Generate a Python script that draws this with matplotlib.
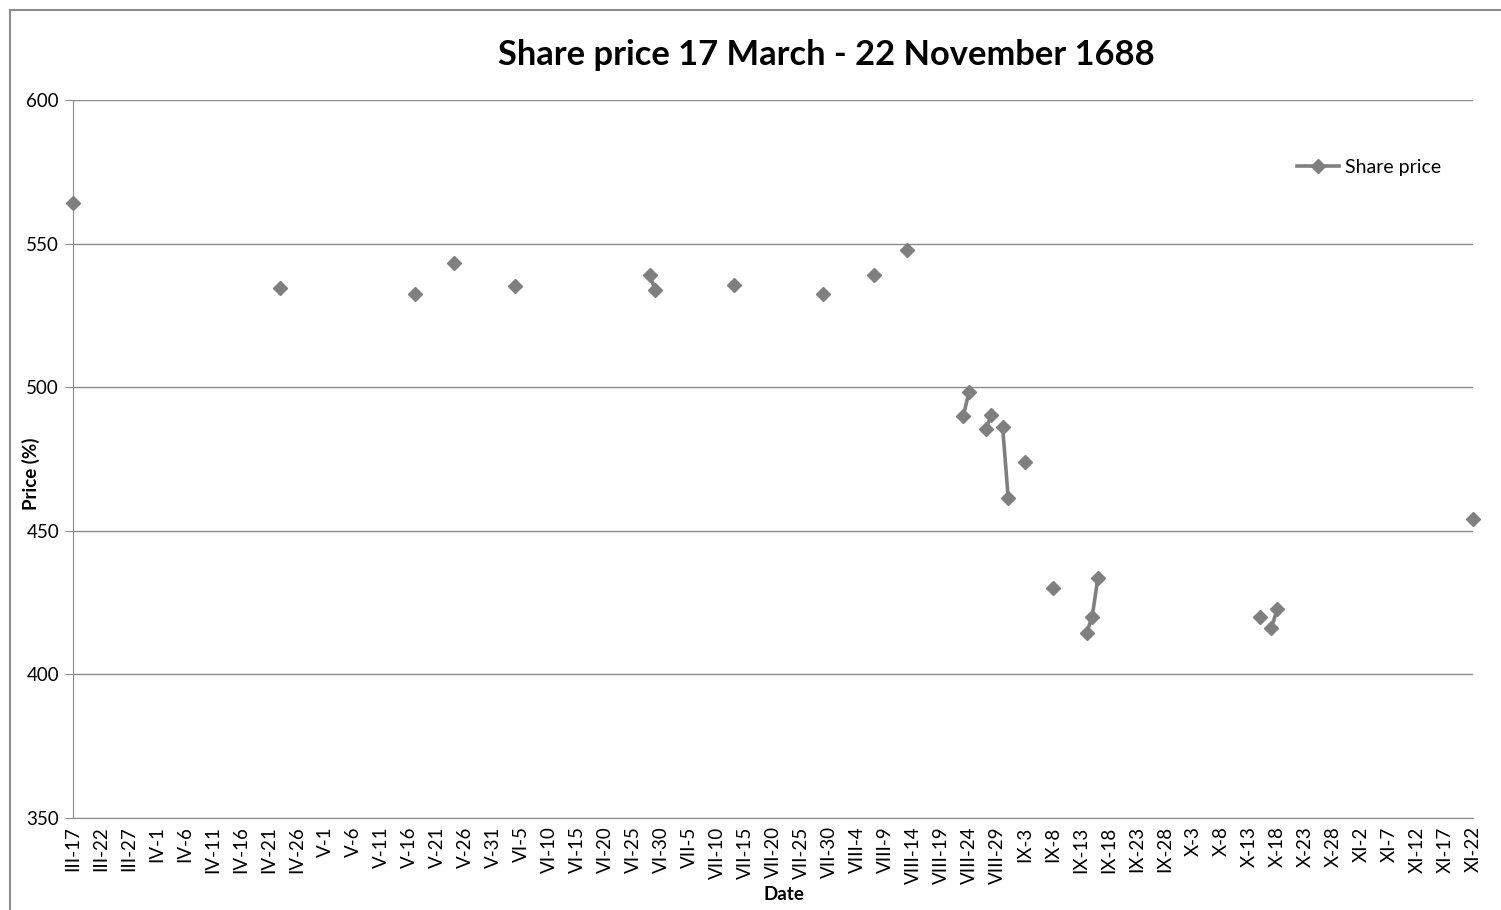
"""
Share price chart, 17 March - 22 November 1688.
"""

import numpy as np
import matplotlib.pyplot as plt
from matplotlib.lines import Line2D

plt.rcParams.update({"font.family": ["Lato", "DejaVu Sans"]})

# observed quotes (missing days are left out)
dates = [
    "1688-03-17", "1688-04-23", "1688-05-17", "1688-05-24", "1688-06-04",
    "1688-06-28", "1688-06-29", "1688-07-13", "1688-07-29", "1688-08-07",
    "1688-08-13", "1688-08-23", "1688-08-24", "1688-08-27", "1688-08-28",
    "1688-08-30", "1688-08-31", "1688-09-03", "1688-09-08", "1688-09-14",
    "1688-09-15", "1688-09-16", "1688-10-15", "1688-10-17", "1688-10-18",
    "1688-11-22",
]
prices = [
    564, 534.5, 532.5, 543.2, 535.2,
    539, 533.7, 535.6, 532.6, 539.2,
    547.8, 490.1, 498.4, 485.4, 490.3,
    486.2, 461.5, 474.1, 430.1, 414.4,
    420.1, 433.4, 420.1, 416.1, 422.6,
    454.1,
]

roman = ["I", "II", "III", "IV", "V", "VI", "VII", "VIII", "IX", "X", "XI", "XII"]


def main():
    start = np.datetime64("1688-03-17")
    end = np.datetime64("1688-11-22")

    # daily series, gaps as NaN so only consecutive days get joined
    days = np.arange(start, end + np.timedelta64(1, "D"), dtype="datetime64[D]")
    series = np.full(len(days), np.nan)
    for d, p in zip(dates, prices):
        series[(np.datetime64(d) - start).astype(int)] = p

    fig = plt.figure(figsize=(15.01, 9.10), dpi=100)
    ax = fig.add_axes([73 / 1501, 1 - 818 / 910, 1400 / 1501, 718 / 910])

    grey = "#7f7f7f"
    ax.plot(days, series, color=grey, lw=2.6, marker="D", ms=7,
            clip_on=False, zorder=3, label="Share price")

    ax.set_xlim(start, end)
    ax.set_ylim(350, 600)
    ax.set_yticks(range(350, 601, 50))
    ax.grid(axis="y", color="#8c8c8c", lw=1)
    ax.set_axisbelow(True)

    ticks = np.arange(start, end + np.timedelta64(1, "D"), 5, dtype="datetime64[D]")
    labels = []
    for t in ticks.astype(object):
        labels.append(f"{roman[t.month - 1]}-{t.day}")
    ax.set_xticks(ticks)
    ax.set_xticklabels(labels, rotation=90)
    ax.tick_params(axis="x", length=0, pad=6, labelsize=13.5)
    ax.tick_params(axis="y", length=6, color="#8c8c8c", labelsize=13.5, pad=4)

    for s in ["top", "right"]:
        ax.spines[s].set_visible(False)
    for s in ["left", "bottom"]:
        ax.spines[s].set_color("#8c8c8c")

    fig.text(784 / 1501, 1 - 895 / 910, "Date", ha="center", va="center",
             fontweight="bold", fontsize=13.5)
    fig.text(31 / 1501, 1 - 474 / 910, "Price (%)", ha="center", va="center",
             rotation=90, fontweight="bold", fontsize=13.5)

    fig.text(826 / 1501, 1 - 55 / 910, "Share price 17 March - 22 November 1688",
             ha="center", va="center", fontsize=24.8, fontweight="bold")

    ax.legend(loc="center left", bbox_to_anchor=(1279 / 1501, 1 - 167 / 910),
              bbox_transform=fig.transFigure, frameon=False, fontsize=14,
              handlelength=2.2, handletextpad=0.3)

    # chart area frame (cropped at right/bottom)
    fig.add_artist(Line2D([10 / 1501, 1], [1 - 10 / 910] * 2, color="#8c8c8c", lw=1.5))
    fig.add_artist(Line2D([10 / 1501] * 2, [0, 1 - 10 / 910], color="#8c8c8c", lw=1.5))

    fig.savefig("out.png", dpi=100)


if __name__ == "__main__":
    main()
